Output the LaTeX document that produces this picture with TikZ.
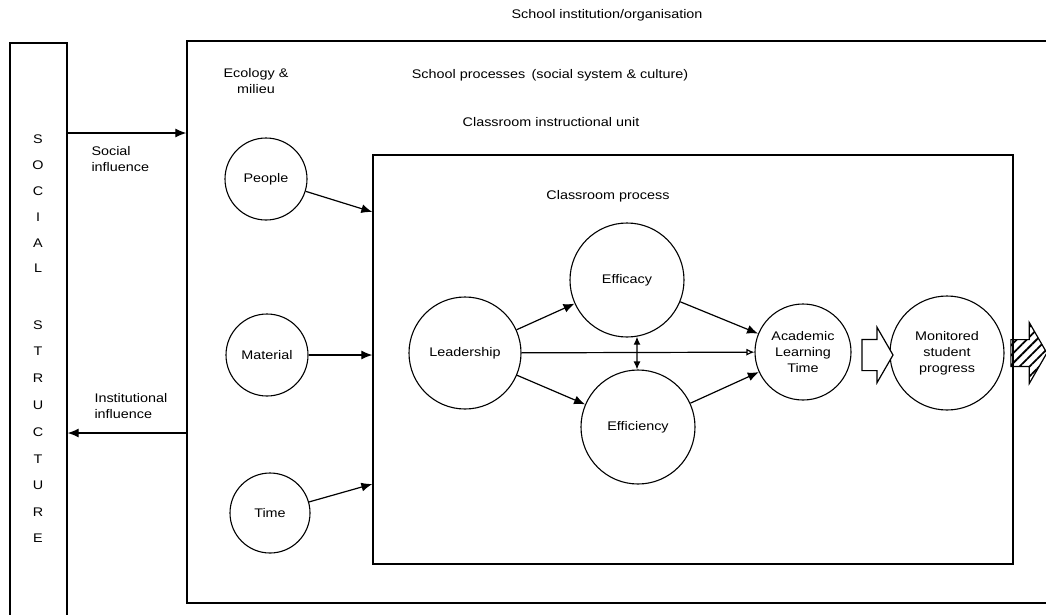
\documentclass[tikz,border=0pt]{standalone}
\usepackage{fontspec}
\setmainfont{Liberation Sans}[FakeStretch=1.15]
\usetikzlibrary{positioning,arrows.meta,shapes.arrows,patterns.meta}

\begin{document}
\begin{tikzpicture}[x=1pt,y=-1pt,
font=\fontsize{12.5}{16}\selectfont,
framebox/.style={rectangle, draw=black, line width=1.3pt, inner sep=0pt},
roundnode/.style={circle, draw=black, line width=1.1pt, align=center, inner sep=0pt},
letter/.style={inner sep=0pt},
arr/.style={-{Latex[length=11pt,width=9pt]}, line width=1.2pt},
openarr/.style={-{Latex[open,length=8pt,width=7pt]}, line width=1.2pt},
blockarrow/.style={single arrow, draw=black, line width=1.2pt, inner xsep=0pt,
  single arrow tip angle=120},
]
\useasboundingbox (0,0) rectangle (1046,614);

%Boxes
\node[framebox, minimum width=57, minimum height=600] (structure) at (38.5,343) {};
\node[framebox, minimum width=883, minimum height=562] (school) at (628.5,322) {};
\node[framebox, minimum width=640, minimum height=409] (unit) at (693,359.5) {};

%Texts
\node (title) at (607,15) {School institution/organisation};
\node[align=center] (ecology) at (256,81) {Ecology \&\\milieu};
\node (processes) at (550,75) {School processes\enspace(social system \& culture)};
\node (unitlabel) at (551,122) {Classroom instructional unit};
\node (classproc) at (608,196) {Classroom process};
\node[align=left, anchor=west] (social) at (88,159) {Social\\influence};
\node[align=left, anchor=west] (instit) at (91,406) {Institutional\\influence};

\foreach \ch/\yy in {S/139,O/165,C/191,I/217,A/243,L/268,S/325,T/351,R/378,U/405,C/432,T/459,U/485,R/512,E/538}
  \node[letter] (let\yy) at (38,\yy) {\ch};

%Nodes
\node[roundnode, minimum size=82] (people) at (266,179) {People};
\node[roundnode, minimum size=82] (material) at (267,355) {Material};
\node[roundnode, minimum size=80] (time) at (270,513) {Time};
\node[roundnode, minimum size=112] (leadership) at (465,353) {Leadership};
\node[roundnode, minimum size=114] (efficacy) at (627,280) {Efficacy};
\node[roundnode, minimum size=114] (efficiency) at (638,427) {Efficiency};
\node[roundnode, minimum size=96] (alt) at (803,352) {Academic\\Learning\\Time};
\node[roundnode, minimum size=114] (progress) at (947,353) {Monitored\\student\\progress};

\node[blockarrow, fill=white, inner ysep=15pt, minimum height=31,
  single arrow head extend=12pt] (gain) at (873,355) {};
\node[blockarrow, pattern={Lines[angle=45,distance=7pt,line width=1.8pt]},
  inner ysep=12.5pt, minimum height=36, single arrow head extend=17pt] (outcome) at (1025,353) {};

%Connectors
\coordinate (socin) at (0,133);
\coordinate (instout) at (0,433);
\coordinate (pin) at (0,212);
\coordinate (tin) at (0,484);

\draw[arr] (structure.east |- socin) -- (school.west |- socin);
\draw[arr] (school.west |- instout) -- (structure.east |- instout);
\draw[arr] (people) -- (unit.west |- pin);
\draw[arr] (material) -- (unit.west |- material);
\draw[arr] (time) -- (unit.west |- tin);

\draw[arr] (leadership) -- (efficacy);
\draw[arr] (leadership) -- (efficiency);
\draw[openarr] (leadership) -- (alt);
\draw[arr] (efficacy) -- (alt);
\draw[arr] (efficiency) -- (alt);
\draw[{Latex[length=8pt,width=7pt]}-{Latex[length=8pt,width=7pt]}, line width=1.2pt] (efficacy.-80) -- (efficiency.91);
\end{tikzpicture}
\end{document}
